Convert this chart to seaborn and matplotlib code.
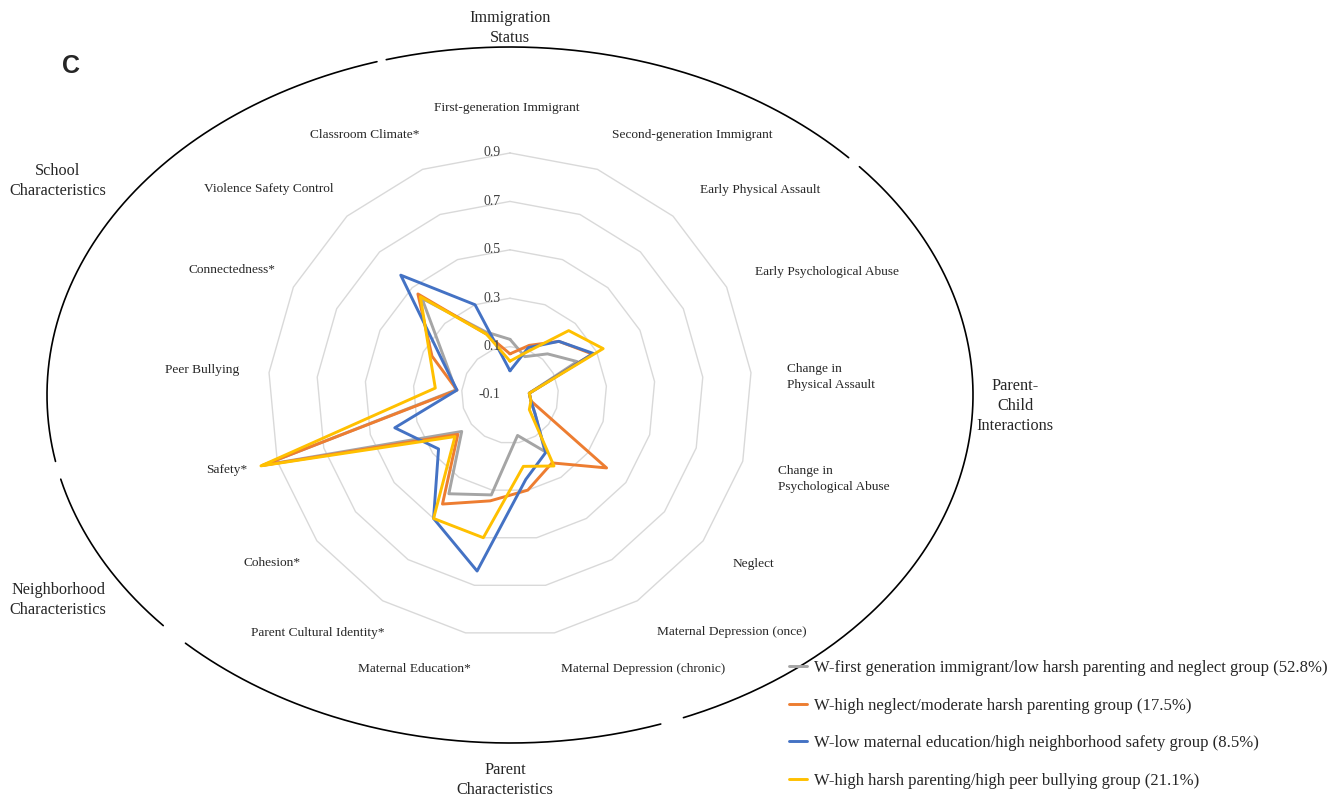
import numpy as np
import pandas as pd
import matplotlib
matplotlib.use("Agg")
import matplotlib.pyplot as plt
import seaborn as sns
from matplotlib.lines import Line2D
from matplotlib.transforms import offset_copy

# categories, clockwise from the top
categories = ["First-generation Immigrant", "Second-generation Immigrant", "Early Physical Assault",
              "Early Psychological Abuse", "Change in\nPhysical Assault", "Change in\nPsychological Abuse",
              "Neglect", "Maternal Depression (once)", "Maternal Depression (chronic)",
              "Maternal Education*", "Parent Cultural Identity*", "Cohesion*", "Safety*",
              "Peer Bullying", "Connectedness*", "Violence Safety Control", "Classroom Climate*"]

immigrant_low = [0.13, 0.07, 0.13, 0.21, -0.02, -0.01, 0.03, 0.175, 0.07, 0.32, 0.38,
                 0.15, 0.96, 0.125, 0.195, 0.44, 0.18]
high_neglect = [0.07, 0.12, 0.20, 0.28, -0.02, -0.01, 0.40, 0.23, 0.30, 0.345, 0.43,
                0.17, 0.965, 0.12, 0.26, 0.465, 0.17]
low_mat_edu = [0.0, 0.11, 0.20, 0.285, -0.02, -0.01, 0.03, 0.18, 0.255, 0.64, 0.50,
               0.27, 0.395, 0.12, 0.21, 0.57, 0.30]
high_harsh = [0.04, 0.09, 0.26, 0.33, -0.02, -0.01, 0.0, 0.245, 0.20, 0.50, 0.50,
              0.185, 0.97, 0.21, 0.27, 0.45, 0.17]

series_names = ["W-first generation immigrant/low harsh parenting and neglect group (52.8%)",
                "W-high neglect/moderate harsh parenting group (17.5%)",
                "W-low maternal education/high neighborhood safety group (8.5%)",
                "W-high harsh parenting/high peer bullying group (21.1%)"]
series_values = [immigrant_low, high_neglect, low_mat_edu, high_harsh]
series_colors = ["#A5A5A5", "#ED7D31", "#4472C4", "#FFC000"]

tick_values = [0.9, 0.7, 0.5, 0.3, 0.1, -0.1]
ring_values = [0.1, 0.3, 0.5, 0.7, 0.9]

group_names = ["Immigration\nStatus", "Parent-\nChild\nInteractions", "Parent\nCharacteristics",
               "Neighborhood\nCharacteristics", "School\nCharacteristics"]

# layout (pixels of the 1338x809 picture)
W, H = 1338, 809
cx, cy, R = 510, 395, 242
label_pos = [(507, 108, "center"), (612, 135, "left"), (700, 190, "left"), (755, 272, "left"),
             (787, 377, "left"), (778, 479, "left"), (733, 564, "left"), (657, 632, "left"),
             (643, 669, "center"), (414, 669, "center"), (318, 633, "center"), (272, 563, "center"),
             (227, 470, "center"), (202, 370, "center"), (232, 270, "center"), (269, 189, "center"),
             (365, 135, "center")]
group_pos = [(510, 28), (1015, 406), (505, 780), (58, 600), (58, 181)]
# ellipse segments (degrees, clockwise from top)
arc_segments = [(-15.5, 47), (49, 158), (161, 224.5), (228.5, 256), (259, 343.3)]

sns.set_theme(style="white")
plt.rcParams["font.family"] = ["Liberation Serif", "DejaVu Serif"]

fig = plt.figure(figsize=(W / 100, H / 100), dpi=100)

ax = fig.add_axes([(cx - R) / W, 1 - (cy + R) / H, 2 * R / W, 2 * R / H], projection="polar")
ax.set_theta_zero_location("N")
ax.set_theta_direction(-1)

n = len(categories)
angles = np.linspace(0, 2 * np.pi, n, endpoint=False)
closed = np.append(angles, 2 * np.pi)

for v in ring_values:
    ax.plot(closed, [v] * (n + 1), color="#D9D9D9", lw=1.0, zorder=1)

rows = []
for name, vals in zip(series_names, series_values):
    for i, (t, r) in enumerate(zip(closed, list(vals) + [vals[0]])):
        rows.append({"group": name, "theta": t, "value": r, "step": i})
df = pd.DataFrame(rows)

sns.lineplot(data=df, x="theta", y="value", hue="group", hue_order=series_names,
             palette=series_colors, sort=False, estimator=None, units="group",
             lw=2.1, ax=ax, legend=False, zorder=3)
for line in ax.lines:
    line.set_clip_on(False)

ax.set_ylim(-0.1, 0.9)
ax.set_xticks([])
ax.set_yticks([])
ax.set_xlabel("")
ax.set_ylabel("")
ax.grid(False)
ax.spines["polar"].set_visible(False)
ax.patch.set_alpha(0)

tick_tr = offset_copy(ax.transData, fig=fig, x=-7, y=0, units="points")
for v in tick_values:
    ax.text(0, v, f"{v:.1f}", transform=tick_tr, ha="right", va="center",
            fontsize=10, color="#404040")

# overlay in picture pixels for labels and group arcs
ov = fig.add_axes([0, 0, 1, 1], zorder=-1)
ov.set_xlim(0, W)
ov.set_ylim(H, 0)
ov.axis("off")

for (x, y, ha), lab in zip(label_pos, categories):
    ov.text(x, y, lab, ha=ha, va="center", fontsize=9.6, color="#262626", linespacing=1.45)

ea, eb, ecx, ecy = 463, 348, 510, 395
for t0, t1 in arc_segments:
    t = np.radians(np.linspace(t0, t1, 200))
    ov.plot(ecx + ea * np.sin(t), ecy - eb * np.cos(t), color="black", lw=1.2)

for (x, y), lab in zip(group_pos, group_names):
    ov.text(x, y, lab, ha="center", va="center", fontsize=11.7, linespacing=1.35)

ov.text(71, 66, "C", ha="center", va="center", fontsize=18, fontweight="bold",
        family="Liberation Sans")

handles = [Line2D([0], [0], color=c, lw=2.1) for c in series_colors]
fig.legend(handles, series_names, loc="upper left", bbox_to_anchor=(789 / W, 1 - 660 / H),
           frameon=False, prop={"family": "Liberation Serif", "size": 12},
           handlelength=1.1, handletextpad=0.4, labelspacing=1.3, borderpad=0, borderaxespad=0)

fig.savefig("out.png", dpi=100)
